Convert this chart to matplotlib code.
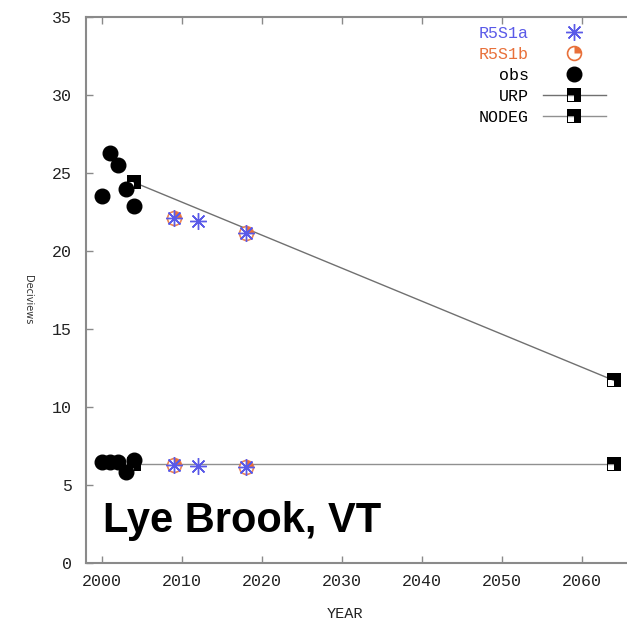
import numpy as np
import matplotlib
matplotlib.use("Agg")
import matplotlib.pyplot as plt
from matplotlib.path import Path

# 20% worst days (upper group) and 20% best days (lower group)
obs_years = [2000, 2001, 2002, 2003, 2004]
obs_worst = [23.5, 26.3, 25.5, 24.0, 22.9]
obs_best = [6.5, 6.5, 6.5, 5.85, 6.6]

r5s1a_years = [2009, 2012, 2018]
r5s1a_worst = [22.1, 21.9, 21.15]
r5s1a_best = [6.3, 6.2, 6.15]

r5s1b_years = [2009, 2018]
r5s1b_worst = [22.1, 21.15]
r5s1b_best = [6.3, 6.15]

urp_years = [2004, 2064]
urp_values = [24.4, 11.7]

nodeg_years = [2004, 2064]
nodeg_values = [6.35, 6.35]

x_ticks = [2000, 2010, 2020, 2030, 2040, 2050, 2060]
y_ticks = [0, 5, 10, 15, 20, 25, 30, 35]

MONO = "Liberation Mono"
GRAY = "#8a8a8a"
BLUE = "#5a5ae8"
ORANGE = "#e8703a"

# black square with a white lower-left quarter
outer = [(-1, -1), (1, -1), (1, 1), (-1, 1), (-1, -1)]
inner = [(-0.8, -0.8), (-0.8, 0.0), (0.0, 0.0), (0.0, -0.8), (-0.8, -0.8)]
codes = [Path.MOVETO] + [Path.LINETO] * 3 + [Path.CLOSEPOLY]
box_marker = Path(outer + inner, codes + codes)

# orange quarter wedge drawn over an open circle
wedge_marker = Path.wedge(0, 90)

fig = plt.figure(figsize=(6.27, 6.27), dpi=100)
ax = fig.add_axes([86 / 627, 64 / 627, 554 / 627, 546 / 627])
ax.set_xlim(1998, 2067.25)
ax.set_ylim(0, 35)

ax.plot(urp_years, urp_values, color="#707070", lw=1.0, marker=box_marker,
        ms=10, mfc="black", mew=0, label="URP", zorder=3)
ax.plot(nodeg_years, nodeg_values, color="#909090", lw=1.0, marker=box_marker,
        ms=10, mfc="black", mew=0, label="NODEG", zorder=3)

ax.plot(obs_years, obs_worst, ls="none", marker="o", ms=10.5, color="black",
        label="obs", zorder=4)
ax.plot(obs_years, obs_best, ls="none", marker="o", ms=10.5, color="black", zorder=4)

for vals in (r5s1b_worst, r5s1b_best):
    ax.plot(r5s1b_years, vals, ls="none", marker="o", ms=10, mfc="white",
            mec=ORANGE, mew=1.2, alpha=0.85, zorder=5)
    ax.plot(r5s1b_years, vals, ls="none", marker=wedge_marker, ms=10,
            color=ORANGE, mew=0, zorder=5)

ax.plot(r5s1a_years, r5s1a_worst, ls="none", marker=(8, 2, 0), ms=12,
        color=BLUE, mew=1.0, zorder=6)
ax.plot(r5s1a_years, r5s1a_best, ls="none", marker=(8, 2, 0), ms=12,
        color=BLUE, mew=1.0, zorder=6)

# legend proxies
h_a, = ax.plot([], [], ls="none", marker=(8, 2, 0), ms=12, color=BLUE, mew=1.0)
h_b1, = ax.plot([], [], ls="none", marker="o", ms=10, mfc="white", mec=ORANGE, mew=1.2)
h_b2, = ax.plot([], [], ls="none", marker=wedge_marker, ms=10, color=ORANGE, mew=0)
h_obs, = ax.plot([], [], ls="none", marker="o", ms=10.5, color="black")
h_urp, = ax.plot([], [], color="#707070", lw=1.0, marker=box_marker, ms=10,
                 mfc="black", mew=0)
h_nodeg, = ax.plot([], [], color="#909090", lw=1.0, marker=box_marker, ms=10,
                   mfc="black", mew=0)

leg = ax.legend([h_a, (h_b1, h_b2), h_obs, h_urp, h_nodeg],
                ["R5S1a", "R5S1b", "obs", "URP", "NODEG"],
                loc="upper right", bbox_to_anchor=(606 / 627, 601 / 627),
                bbox_transform=fig.transFigure, frameon=False, markerfirst=False,
                borderpad=0, borderaxespad=0, handlelength=3.8, handletextpad=0.85,
                labelspacing=0.36, prop={"family": MONO, "size": 12})
for txt, col in zip(leg.get_texts(), [BLUE, ORANGE, "black", "black", "black"]):
    txt.set_color(col)

for side in ("left", "bottom", "top", "right"):
    ax.spines[side].set_color(GRAY)
    ax.spines[side].set_linewidth(1.5)

ax.set_xticks(x_ticks)
ax.set_yticks(y_ticks)
ax.tick_params(axis="both", direction="in", length=5, width=1, color=GRAY,
               labelsize=12, labelcolor="#222222", top=True, right=False)
ax.tick_params(axis="x", pad=8)
ax.tick_params(axis="y", pad=10)
for lab in ax.get_xticklabels() + ax.get_yticklabels():
    lab.set_family(MONO)

fig.text(345 / 627, 1 - 614 / 627, "YEAR", family=MONO, fontsize=11,
         ha="center", va="center", color="#222222")
fig.text(28 / 627, 1 - 300 / 627, "Deciviews", family="DejaVu Sans", fontsize=7,
         rotation=270, ha="center", va="center", color="#333333")

ax.text(103 / 627, 1 - 532 / 627, "Lye Brook, VT", transform=fig.transFigure,
        family="Liberation Sans", fontweight="bold", fontsize=30,
        ha="left", va="baseline", color="black", zorder=7)

fig.savefig("out.png", dpi=100)
